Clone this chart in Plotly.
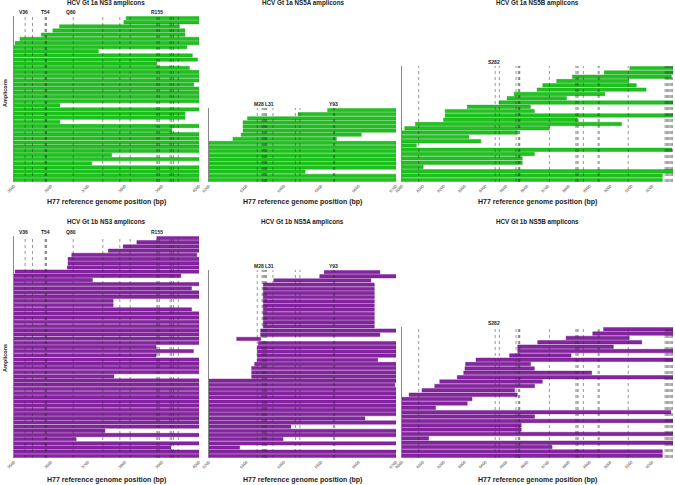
import plotly.graph_objects as go

W, H = 675, 485

# ---------------- tick labels ----------------
ns3_ticks = [3500, 3600, 3700, 3800, 3900, 4000]
ns5a_ticks = [6200, 6300, 6400, 6500, 6600, 6700]
ns5b_ticks = [8000, 8100, 8200, 8300, 8400, 8500, 8600, 8700, 8800, 8900, 9000, 9100, 9200, 9300]

# ---------------- resistance-associated positions ----------------
ns3_rap = [3530, 3550, 3584, 3586, 3588, 3660, 3740, 3786, 3814, 3886, 3889, 3893, 3922, 3926, 3931, 3944]
ns3_labels = ["V36", "T54", "Q80", "R155"]
ns3_label_pos = [3527, 3586, 3653, 3887]

ns5a_rap = [6329, 6342, 6345, 6348, 6351, 6354, 6371, 6431, 6443, 6533, 6536]
ns5a_labels = ["M28", "L31", "Y93"]
ns5a_label_pos = [6334, 6363, 6533]

ns5b_rap = [8080, 8447, 8467, 8547, 8558, 8562, 8565, 8707, 8834, 8840, 8845, 8870, 8941, 8946,
            9085, 9262, 9268, 9274, 9280, 9286, 9292, 9298]
ns5b_labels = ["S282"]
ns5b_label_pos = [8442]

# ---------------- amplicons: Gt 1a ----------------
ns3_1a_start = [3803, 3797, 3623, 3605, 3574, 3516, 3503, 3500, 3500, 3500,
                3500, 3500, 3500, 3500, 3500, 3500, 3500, 3500, 3500, 3500,
                3500, 3500, 3500, 3500, 3500, 3500, 3500, 3500, 3500, 3500,
                3500, 3500, 3500, 3500, 3500, 3500, 3500, 3500, 3500, 3500]
ns3_1a_end = [4000, 4000, 3947, 3962, 3962, 4000, 4000, 3967, 3728, 3982,
              3996, 3886, 3974, 4000, 4000, 4000, 3986, 4000, 4000, 4000,
              4000, 3624, 4000, 3962, 3962, 3624, 4000, 3927, 4000, 4000,
              4000, 4000, 4000, 3764, 4000, 3710, 4000, 4000, 4000, 4000]

ns5a_1a_start = [6517, 6438, 6303, 6291, 6291, 6291, 6286, 6264, 6200, 6200,
                 6200, 6200, 6200, 6200, 6200, 6200, 6200, 6200]
ns5a_1a_end = [6700, 6700, 6700, 6700, 6700, 6700, 6607, 6541, 6700, 6700,
               6700, 6700, 6700, 6700, 6700, 6457, 6700, 6700]

ns5b_1a_start = [9093, 8970, 8817, 8742, 8675, 8648, 8538, 8504, 8466, 8313,
                 8207, 8207, 8199, 8064, 8013, 8000, 8000, 8000, 8000, 8000,
                 8000, 8000, 8000, 8000, 8000, 8000, 8000]
ns5b_1a_end = [9300, 9300, 9292, 9089, 9124, 9171, 8973, 8789, 9300, 8616,
               8635, 9300, 8841, 9053, 8707, 8555, 8321, 8378, 8069, 9295,
               8635, 8577, 8577, 8102, 9300, 9249, 9249]

# ---------------- amplicons: Gt 1b ----------------
ns3_1b_start = [3886, 3832, 3795, 3755, 3656, 3646, 3646, 3644, 3503, 3500,
                3500, 3500, 3500, 3500, 3500, 3500, 3500, 3500, 3500, 3500,
                3500, 3500, 3500, 3500, 3500, 3500, 3500, 3500, 3500, 3500,
                3500, 3500, 3500, 3500, 3500, 3500, 3500, 3500, 3500, 3500,
                3500, 3500, 3500, 3500, 3500, 3500, 3500, 3500, 3500, 3500,
                3500, 3500, 3500]
ns3_1b_end = [4000, 4000, 4000, 4000, 3994, 4000, 4000, 4000, 4000, 3951,
              3712, 4000, 3980, 4000, 4000, 3768, 3768, 3980, 4000, 4000,
              4000, 4000, 4000, 4000, 4000, 4000, 3884, 3985, 3884, 4000,
              4000, 4000, 4000, 3770, 4000, 4000, 4000, 4000, 4000, 4000,
              4000, 4000, 4000, 4000, 4000, 4000, 3746, 4000, 3668, 4000,
              3924, 4000, 4000]

ns5a_1b_start = [6508, 6496, 6373, 6345, 6345, 6345, 6345, 6345, 6345, 6345,
                 6345, 6345, 6345, 6345, 6338, 6338, 6338, 6332, 6329, 6329,
                 6329, 6329, 6322, 6314, 6314, 6314, 6200, 6200, 6200, 6200,
                 6200, 6200, 6200, 6200, 6200, 6200, 6200, 6200, 6200, 6200,
                 6200, 6200, 6200, 6200, 6200]
ns5a_1b_end = [6657, 6700, 6633, 6642, 6642, 6642, 6642, 6642, 6642, 6642,
               6642, 6642, 6642, 6642, 6700, 6657, 6274, 6700, 6700, 6700,
               6700, 6651, 6700, 6700, 6700, 6700, 6700, 6697, 6700, 6700,
               6700, 6700, 6700, 6700, 6700, 6617, 6700, 6419, 6700, 6700,
               6398, 6700, 6282, 6700, 6700]

ns5b_1b_start = [8967, 8915, 8787, 8651, 8555, 8555, 8516, 8355, 8305, 8302,
                 8296, 8265, 8181, 8157, 8096, 8034, 8000, 8000, 8000, 8000,
                 8000, 8000, 8000, 8000, 8000, 8000, 8000, 8000, 8000, 8000]
ns5b_1b_end = [9300, 9300, 9090, 9150, 9014, 9300, 8811, 9300, 8617, 8635,
               8910, 9300, 8673, 8636, 8540, 8553, 8336, 8313, 8161, 9290,
               8636, 9300, 8572, 8572, 9300, 8128, 9300, 8720, 9249, 9249]

titles = ["HCV Gt 1a NS3 amplicons", "HCV Gt 1a NS5A amplicons", "HCV Gt 1a NS5B amplicons",
          "HCV Gt 1b NS3 amplicons", "HCV Gt 1b NS5A amplicons", "HCV Gt 1b NS5B amplicons"]
xlabel = "H77 reference genome position (bp)"
ylabel = "Amplicons"

GREEN_FILL, GREEN_LINE = "#1ec31e", "#129f12"
PURPLE_FILL, PURPLE_LINE = "#85259f", "#6a0f87"

# pixel boxes (x0, x1, ytop, ybottom)
col_x = [(14, 199), (209, 396), (402, 673)]
panels = [
    dict(start=ns3_1a_start, end=ns3_1a_end, ticks=ns3_ticks, rap=ns3_rap, lab=ns3_labels, labpos=ns3_label_pos,
         box=(col_x[0][0], col_x[0][1], 16, 182), fill=GREEN_FILL, line=GREEN_LINE),
    dict(start=ns5a_1a_start, end=ns5a_1a_end, ticks=ns5a_ticks, rap=ns5a_rap, lab=ns5a_labels, labpos=ns5a_label_pos,
         box=(col_x[1][0], col_x[1][1], 108, 182), fill=GREEN_FILL, line=GREEN_LINE),
    dict(start=ns5b_1a_start, end=ns5b_1a_end, ticks=ns5b_ticks, rap=ns5b_rap, lab=ns5b_labels, labpos=ns5b_label_pos,
         box=(col_x[2][0], col_x[2][1], 66, 182), fill=GREEN_FILL, line=GREEN_LINE),
    dict(start=ns3_1b_start, end=ns3_1b_end, ticks=ns3_ticks, rap=ns3_rap, lab=ns3_labels, labpos=ns3_label_pos,
         box=(col_x[0][0], col_x[0][1], 236, 458), fill=PURPLE_FILL, line=PURPLE_LINE),
    dict(start=ns5a_1b_start, end=ns5a_1b_end, ticks=ns5a_ticks, rap=ns5a_rap, lab=ns5a_labels, labpos=ns5a_label_pos,
         box=(col_x[1][0], col_x[1][1], 270, 458), fill=PURPLE_FILL, line=PURPLE_LINE),
    dict(start=ns5b_1b_start, end=ns5b_1b_end, ticks=ns5b_ticks, rap=ns5b_rap, lab=ns5b_labels, labpos=ns5b_label_pos,
         box=(col_x[2][0], col_x[2][1], 327, 458), fill=PURPLE_FILL, line=PURPLE_LINE),
]

fig = go.Figure()
layout = dict(width=W, height=H, margin=dict(l=0, r=0, t=0, b=0, autoexpand=False),
              paper_bgcolor="white", plot_bgcolor="rgba(0,0,0,0)",
              showlegend=False, bargap=0.2)
shapes, annotations = [], []
FONT = "Liberation Sans, Arial, sans-serif"

for k, p in enumerate(panels, start=1):
    x0, x1, yt, yb = p["box"]
    n = len(p["start"])
    rows = list(range(1, n + 1))
    xs = "x" if k == 1 else f"x{k}"
    ys = "y" if k == 1 else f"y{k}"
    fig.add_trace(go.Bar(
        orientation="h", y=rows, x=[e - s for s, e in zip(p["start"], p["end"])], base=p["start"],
        width=0.8, marker=dict(color=p["fill"], line=dict(color=p["line"], width=0.4)),
        xaxis=xs, yaxis=ys, hoverinfo="skip"))
    lo, hi = p["ticks"][0], p["ticks"][-1]
    layout["xaxis" if k == 1 else f"xaxis{k}"] = dict(
        domain=[x0 / W, x1 / W], range=[lo, hi], anchor=ys, automargin=False,
        tickvals=p["ticks"], ticktext=[str(t) for t in p["ticks"]], tickangle=-45,
        tickfont=dict(size=4, family=FONT, color="#333"), ticks="", showgrid=False,
        zeroline=False, showline=False)
    layout["yaxis" if k == 1 else f"yaxis{k}"] = dict(
        domain=[1 - yb / H, 1 - yt / H], range=[n + 0.5, 0.5], anchor=xs, automargin=False,
        showticklabels=False, ticks="", showgrid=False, zeroline=False,
        showline=True, linecolor="#888", linewidth=1)
    for xv in p["rap"]:
        shapes.append(dict(type="line", xref=xs, yref=f"{ys} domain", x0=xv, x1=xv, y0=0, y1=1,
                           line=dict(color="#333", width=0.5, dash="dot"), layer="above"))
    for t, xv in zip(p["lab"], p["labpos"]):
        annotations.append(dict(text=f"<b>{t}</b>", x=xv, xref=xs, y=1 - (yt - 4) / H, yref="paper",
                                showarrow=False, font=dict(size=5, family=FONT, color="#222"),
                                xanchor="center", yanchor="middle"))
    # title
    title_y = 3.5 if k <= 3 else 222
    annotations.append(dict(text=f"<b>{titles[k-1]}</b>", x=(x0 + x1) / 2 / W, xref="paper",
                            y=1 - title_y / H, yref="paper", showarrow=False,
                            font=dict(size=6.3, family=FONT, color="#222"),
                            xanchor="center", yanchor="middle"))
    # x axis title
    xt_y = 202 if k <= 3 else 480
    annotations.append(dict(text=f"<b>{xlabel}</b>", x=(x0 + x1) / 2 / W, xref="paper",
                            y=1 - xt_y / H, yref="paper", showarrow=False,
                            font=dict(size=7, family=FONT, color="#222"),
                            xanchor="center", yanchor="middle"))

for yc in (93, 358):
    annotations.append(dict(text=f"<b>{ylabel}</b>", x=5 / W, xref="paper", y=1 - yc / H, yref="paper",
                            showarrow=False, textangle=-90, font=dict(size=5.5, family=FONT, color="#222"),
                            xanchor="center", yanchor="middle"))

layout["shapes"] = shapes
layout["annotations"] = annotations
fig.update_layout(**layout)
fig.write_html("out.html", config={"displayModeBar": False, "staticPlot": True},
               post_script="document.body.style.margin='0';document.body.style.overflow='hidden';")
